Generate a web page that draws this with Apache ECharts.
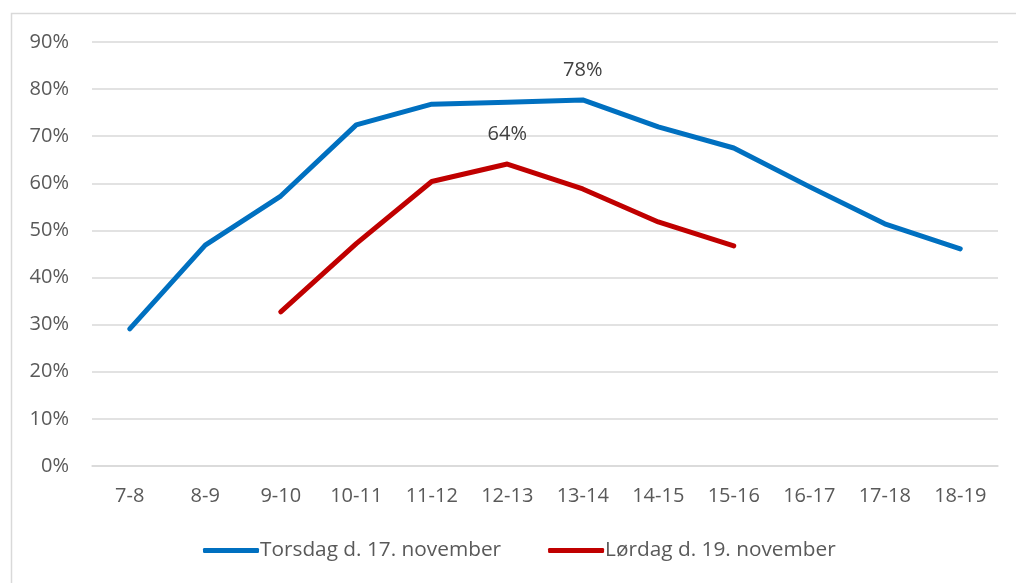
<!DOCTYPE html>
<html>
<head>
<meta charset="utf-8">
<script src="https://cdn.jsdelivr.net/npm/echarts@6/dist/echarts.min.js"></script>
<style>
  html, body { margin: 0; padding: 0; background: #fff; }
  #chart { width: 1016px; height: 583px; }
</style>
</head>
<body>
<div id="chart"></div>
<script>
var hours = ['7-8', '8-9', '9-10', '10-11', '11-12', '12-13', '13-14', '14-15', '15-16', '16-17', '17-18', '18-19'];
var thursday = [29.1, 46.9, 57.3, 72.4, 76.8, 77.2, 77.7, 72.0, 67.5, 59.3, 51.4, 46.1];
var saturday = [null, null, 32.7, 47.2, 60.4, 64.1, 58.8, 51.8, 46.7, null, null, null];
var yTicks = [0, 90, 10]; // min, max, interval
var labelAt = { thursday: 6, saturday: 5 };

var font = '"Open Sans", "Noto Sans", sans-serif';

// only one point per series carries a value label
function withLabel(values, idx) {
  return values.map(function (v, i) {
    if (i !== idx) return v;
    return {
      value: v,
      label: {
        show: true,
        position: 'top',
        distance: 20,
        color: '#404040',
        fontSize: 20,
        fontFamily: font,
        formatter: function (p) { return Math.round(p.value) + '%'; }
      }
    };
  });
}

var chart = echarts.init(document.getElementById('chart'));

var option = {
  animation: false,
  graphic: [{
    type: 'rect',
    shape: { x: 11.5, y: 13.5, width: 1100, height: 700 },
    style: { fill: 'none', stroke: '#d9d9d9', lineWidth: 1.5 },
    silent: true,
    z: -1
  }],
  grid: { left: 92, right: 18, top: 42, bottom: 117 },
  legend: {
    bottom: 17,
    left: 198,
    itemWidth: 56,
    itemHeight: 5,
    itemGap: 47,
    icon: 'roundRect',
    textStyle: { color: '#595959', fontSize: 20.8, fontFamily: font, padding: [0, 0, 0, -4] },
    data: ['Torsdag d. 17. november', 'Lørdag d. 19. november']
  },
  xAxis: {
    type: 'category',
    data: hours,
    boundaryGap: true,
    axisLine: { lineStyle: { color: '#d9d9d9', width: 1.5 } },
    axisTick: { show: false },
    axisLabel: { color: '#595959', fontSize: 20, fontFamily: font, margin: 20 }
  },
  yAxis: {
    type: 'value',
    min: yTicks[0],
    max: yTicks[1],
    interval: yTicks[2],
    axisLine: { show: false },
    axisTick: { show: false },
    splitLine: { lineStyle: { color: '#d9d9d9', width: 1.5 } },
    axisLabel: { color: '#595959', fontSize: 20, fontFamily: font, margin: 23, formatter: '{value}%' }
  },
  series: [
    {
      name: 'Torsdag d. 17. november',
      type: 'line',
      data: withLabel(thursday, labelAt.thursday),
      symbol: 'circle',
      symbolSize: 0,
      showSymbol: true,
      color: '#0070C0',
      lineStyle: { width: 5, color: '#0070C0', cap: 'round', join: 'round' }
    },
    {
      name: 'Lørdag d. 19. november',
      type: 'line',
      data: withLabel(saturday, labelAt.saturday),
      symbol: 'circle',
      symbolSize: 0,
      showSymbol: true,
      color: '#C00000',
      lineStyle: { width: 5, color: '#C00000', cap: 'round', join: 'round' }
    }
  ]
};

chart.setOption(option);
</script>
</body>
</html>
